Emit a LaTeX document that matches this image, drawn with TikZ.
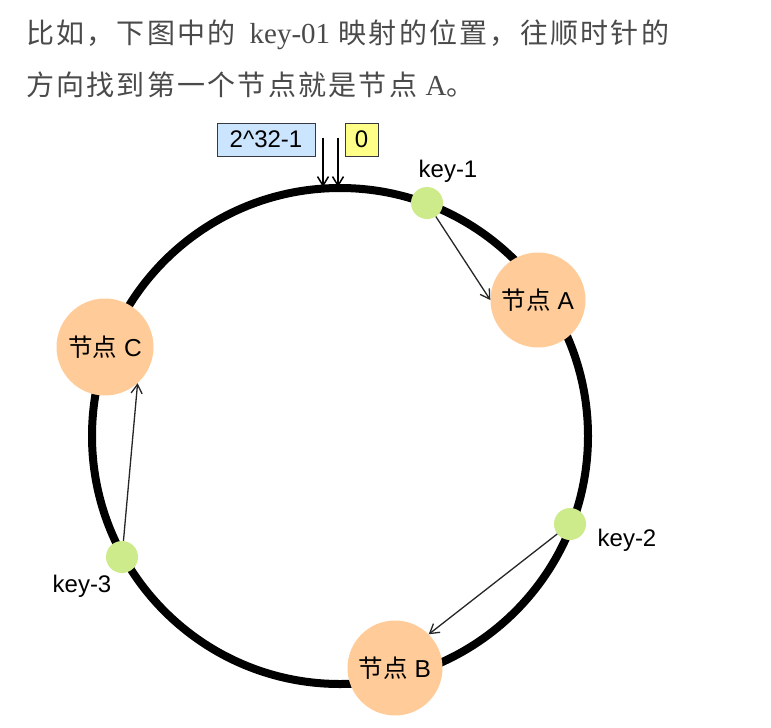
\documentclass[tikz,border=0pt]{standalone}
\usepackage{fontspec}
\setmainfont{Liberation Sans}
\newfontfamily\cjk{Noto Sans CJK SC}
\newfontfamily\cjkprose[LetterSpace=8]{Noto Sans CJK SC}
\newfontfamily\serifl{Liberation Serif}
\usetikzlibrary{arrows.meta}
\definecolor{nodefill}{HTML}{FFCC99}
\definecolor{keyfill}{HTML}{CDEB8B}
\definecolor{bluefill}{HTML}{CCE5FF}
\definecolor{yellowfill}{HTML}{FFFF88}
\definecolor{boxline}{HTML}{36393D}
\definecolor{prose}{HTML}{4A4A4A}
\begin{document}
\begin{tikzpicture}[x=1pt,y=-1pt,
  ringnode/.style={circle,fill=nodefill,inner sep=0pt,minimum size=95pt,
    font=\fontsize{24.5}{28}\selectfont,text=black},
  keydot/.style={circle,fill=keyfill,inner sep=0pt,minimum size=32pt},
  keylabel/.style={font=\fontsize{24}{28}\selectfont,text=black},
  valbox/.style={draw=boxline,line width=1pt,minimum height=33pt,inner sep=0pt,
    font=\fontsize{24}{28}\selectfont},
  conn/.style={draw=black!85,line width=1.3pt,-{Straight Barb[length=9pt,width=11pt]}},
  ptr/.style={draw=black,line width=1.5pt,-{Straight Barb[length=9pt,width=11pt]}},
  prosetext/.style={anchor=west,inner sep=0pt,text=prose,font=\fontsize{28}{30}\selectfont}
]
\useasboundingbox[fill=white] (0,0) rectangle (771,728);

% prose
\node[prosetext] (line1) at (26,35) {\cjkprose 比如，下图中的\hspace{14pt}{\serifl\fontsize{29}{30}\selectfont key-01} 映射的位置，往顺时针的};
\node[prosetext] (line2) at (26,85) {\cjkprose 方向找到第一个节点就是节点 {\serifl\fontsize{29}{30}\selectfont A}。};

% ring
\coordinate (ctr) at (340,436);
\draw[line width=8pt] (ctr) circle[radius=248];

% nodes
\node[ringnode] (A) at (538,300) {{\cjk 节点} A};
\node[ringnode] (B) at (395,668) {{\cjk 节点} B};
\node[ringnode,minimum size=97pt] (C) at (105,347) {{\cjk 节点} C};

% keys
\node[keydot] (k1) at (427,203) {};
\node[keydot] (k2) at (570,524) {};
\node[keydot] (k3) at (122,557) {};
\node[keylabel] (l1) at (448,171) {key-1};
\node[keylabel] (l2) at (627,540) {key-2};
\node[keylabel] (l3) at (82,586) {key-3};

% boxes
\node[valbox,fill=bluefill,minimum width=98pt] (max) at (266,139.5) {2\^{}32-1};
\node[valbox,fill=yellowfill,minimum width=33pt] (zero) at (361.5,139.5) {0};

% pointers to the ring
\coordinate (p1s) at (323,138);
\coordinate (p1e) at (323,187);
\coordinate (p2s) at (338,138);
\coordinate (p2e) at (338,187);
\draw[ptr] (p1s) -- (p1e);
\draw[ptr] (p2s) -- (p2e);

% mapping arrows
\draw[conn] (k1) -- (A.west);
\draw[conn] (k2) -- (B.north east);
\draw[conn] (k3) -- (C.-48);
\end{tikzpicture}
\end{document}
